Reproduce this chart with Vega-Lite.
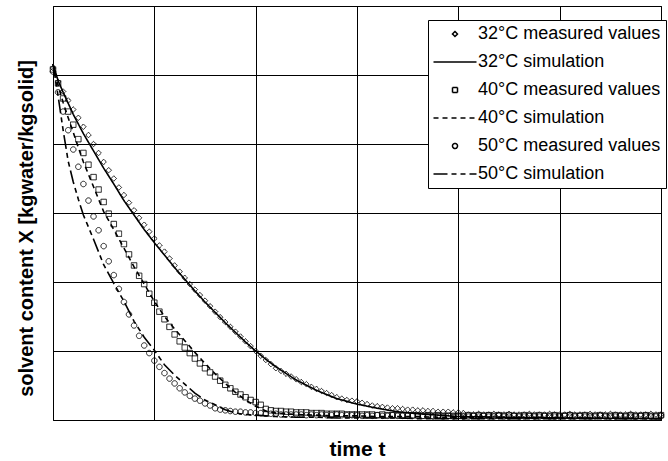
{
  "$schema": "https://vega.github.io/schema/vega-lite/v6.json",
  "width": 608,
  "height": 414,
  "autosize": {"type": "none"},
  "padding": {"left": 53, "top": 6, "right": 7, "bottom": 41},
  "background": "white",
  "config": {
    "view": {"stroke": "black", "strokeWidth": 1},
    "font": "Liberation Sans",
    "axis": {"gridColor": "black", "gridOpacity": 1, "gridWidth": 1, "labels": false, "ticks": false, "domain": false, "titleFont": "Liberation Sans", "titleFontWeight": "bold", "titleColor": "black", "titleFontSize": 21}
  },
  "datasets": {
    "meas": [
      {"t":0.00,"32°C measured values":5.10,"40°C measured values":5.08,"50°C measured values":5.05},
      {"t":0.05,"32°C measured values":4.90,"40°C measured values":4.88,"50°C measured values":4.75},
      {"t":0.10,"32°C measured values":4.76,"40°C measured values":4.66,"50°C measured values":4.47},
      {"t":0.15,"32°C measured values":4.63,"40°C measured values":4.47,"50°C measured values":4.20},
      {"t":0.20,"32°C measured values":4.50,"40°C measured values":4.28,"50°C measured values":3.92},
      {"t":0.25,"32°C measured values":4.38,"40°C measured values":4.07,"50°C measured values":3.67},
      {"t":0.30,"32°C measured values":4.25,"40°C measured values":3.87,"50°C measured values":3.42},
      {"t":0.35,"32°C measured values":4.13,"40°C measured values":3.70,"50°C measured values":3.18},
      {"t":0.40,"32°C measured values":4.00,"40°C measured values":3.52,"50°C measured values":2.95},
      {"t":0.45,"32°C measured values":3.87,"40°C measured values":3.34,"50°C measured values":2.75},
      {"t":0.50,"32°C measured values":3.74,"40°C measured values":3.16,"50°C measured values":2.52},
      {"t":0.55,"32°C measured values":3.62,"40°C measured values":2.99,"50°C measured values":2.30},
      {"t":0.60,"32°C measured values":3.50,"40°C measured values":2.84,"50°C measured values":2.10},
      {"t":0.65,"32°C measured values":3.37,"40°C measured values":2.70,"50°C measured values":1.90},
      {"t":0.70,"32°C measured values":3.26,"40°C measured values":2.55,"50°C measured values":1.71},
      {"t":0.75,"32°C measured values":3.15,"40°C measured values":2.40,"50°C measured values":1.53},
      {"t":0.80,"32°C measured values":3.04,"40°C measured values":2.24,"50°C measured values":1.37},
      {"t":0.85,"32°C measured values":2.93,"40°C measured values":2.09,"50°C measured values":1.22},
      {"t":0.90,"32°C measured values":2.83,"40°C measured values":1.97,"50°C measured values":1.08},
      {"t":0.95,"32°C measured values":2.73,"40°C measured values":1.83,"50°C measured values":0.97},
      {"t":1.00,"32°C measured values":2.63,"40°C measured values":1.70,"50°C measured values":0.86},
      {"t":1.05,"32°C measured values":2.53,"40°C measured values":1.57,"50°C measured values":0.77},
      {"t":1.10,"32°C measured values":2.44,"40°C measured values":1.46,"50°C measured values":0.68},
      {"t":1.15,"32°C measured values":2.34,"40°C measured values":1.35,"50°C measured values":0.60},
      {"t":1.20,"32°C measured values":2.24,"40°C measured values":1.24,"50°C measured values":0.53},
      {"t":1.25,"32°C measured values":2.15,"40°C measured values":1.14,"50°C measured values":0.46},
      {"t":1.30,"32°C measured values":2.06,"40°C measured values":1.05,"50°C measured values":0.40},
      {"t":1.35,"32°C measured values":1.97,"40°C measured values":0.97,"50°C measured values":0.35},
      {"t":1.40,"32°C measured values":1.89,"40°C measured values":0.89,"50°C measured values":0.31},
      {"t":1.45,"32°C measured values":1.81,"40°C measured values":0.82,"50°C measured values":0.28},
      {"t":1.50,"32°C measured values":1.73,"40°C measured values":0.75,"50°C measured values":0.24},
      {"t":1.55,"32°C measured values":1.65,"40°C measured values":0.69,"50°C measured values":0.21},
      {"t":1.60,"32°C measured values":1.57,"40°C measured values":0.63,"50°C measured values":0.17},
      {"t":1.65,"32°C measured values":1.49,"40°C measured values":0.57,"50°C measured values":0.15},
      {"t":1.70,"32°C measured values":1.42,"40°C measured values":0.51,"50°C measured values":0.14},
      {"t":1.75,"32°C measured values":1.35,"40°C measured values":0.46,"50°C measured values":0.13},
      {"t":1.80,"32°C measured values":1.28,"40°C measured values":0.41,"50°C measured values":0.12},
      {"t":1.85,"32°C measured values":1.21,"40°C measured values":0.37,"50°C measured values":0.12},
      {"t":1.90,"32°C measured values":1.14,"40°C measured values":0.33,"50°C measured values":0.11},
      {"t":1.95,"32°C measured values":1.07,"40°C measured values":0.29,"50°C measured values":0.11},
      {"t":2.00,"32°C measured values":1.00,"40°C measured values":0.26,"50°C measured values":0.10},
      {"t":2.05,"32°C measured values":0.93,"40°C measured values":0.22,"50°C measured values":0.10},
      {"t":2.10,"32°C measured values":0.87,"40°C measured values":0.16,"50°C measured values":0.09},
      {"t":2.15,"32°C measured values":0.81,"40°C measured values":0.14,"50°C measured values":0.09},
      {"t":2.20,"32°C measured values":0.75,"40°C measured values":0.13,"50°C measured values":0.09},
      {"t":2.25,"32°C measured values":0.71,"40°C measured values":0.13,"50°C measured values":0.08},
      {"t":2.30,"32°C measured values":0.67,"40°C measured values":0.12,"50°C measured values":0.08},
      {"t":2.35,"32°C measured values":0.63,"40°C measured values":0.12,"50°C measured values":0.08},
      {"t":2.40,"32°C measured values":0.59,"40°C measured values":0.11,"50°C measured values":0.08},
      {"t":2.45,"32°C measured values":0.55,"40°C measured values":0.11,"50°C measured values":0.08},
      {"t":2.50,"32°C measured values":0.52,"40°C measured values":0.11,"50°C measured values":0.07},
      {"t":2.55,"32°C measured values":0.48,"40°C measured values":0.10,"50°C measured values":0.08},
      {"t":2.60,"32°C measured values":0.45,"40°C measured values":0.10,"50°C measured values":0.07},
      {"t":2.65,"32°C measured values":0.42,"40°C measured values":0.10,"50°C measured values":0.08},
      {"t":2.70,"32°C measured values":0.39,"40°C measured values":0.09,"50°C measured values":0.07},
      {"t":2.75,"32°C measured values":0.36,"40°C measured values":0.09,"50°C measured values":0.07},
      {"t":2.80,"32°C measured values":0.33,"40°C measured values":0.09,"50°C measured values":0.08},
      {"t":2.85,"32°C measured values":0.31,"40°C measured values":0.09,"50°C measured values":0.07},
      {"t":2.90,"32°C measured values":0.29,"40°C measured values":0.08,"50°C measured values":0.07},
      {"t":2.95,"32°C measured values":0.28,"40°C measured values":0.08,"50°C measured values":0.07},
      {"t":3.00,"32°C measured values":0.27,"40°C measured values":0.08,"50°C measured values":0.07},
      {"t":3.05,"32°C measured values":0.25,"40°C measured values":0.08,"50°C measured values":0.06},
      {"t":3.10,"32°C measured values":0.23,"40°C measured values":0.08,"50°C measured values":0.07},
      {"t":3.15,"32°C measured values":0.21,"40°C measured values":0.08,"50°C measured values":0.06},
      {"t":3.20,"32°C measured values":0.20,"40°C measured values":0.07,"50°C measured values":0.07},
      {"t":3.25,"32°C measured values":0.19,"40°C measured values":0.08,"50°C measured values":0.06},
      {"t":3.30,"32°C measured values":0.18,"40°C measured values":0.07,"50°C measured values":0.06},
      {"t":3.35,"32°C measured values":0.17,"40°C measured values":0.07,"50°C measured values":0.07},
      {"t":3.40,"32°C measured values":0.17,"40°C measured values":0.07,"50°C measured values":0.06},
      {"t":3.45,"32°C measured values":0.16,"40°C measured values":0.07,"50°C measured values":0.06},
      {"t":3.50,"32°C measured values":0.15,"40°C measured values":0.07,"50°C measured values":0.06},
      {"t":3.55,"32°C measured values":0.15,"40°C measured values":0.07,"50°C measured values":0.06},
      {"t":3.60,"32°C measured values":0.14,"40°C measured values":0.07,"50°C measured values":0.06},
      {"t":3.65,"32°C measured values":0.14,"40°C measured values":0.06,"50°C measured values":0.06},
      {"t":3.70,"32°C measured values":0.13,"40°C measured values":0.07,"50°C measured values":0.06},
      {"t":3.75,"32°C measured values":0.13,"40°C measured values":0.06,"50°C measured values":0.05},
      {"t":3.80,"32°C measured values":0.12,"40°C measured values":0.07,"50°C measured values":0.06},
      {"t":3.85,"32°C measured values":0.12,"40°C measured values":0.06,"50°C measured values":0.05},
      {"t":3.90,"32°C measured values":0.12,"40°C measured values":0.06,"50°C measured values":0.06},
      {"t":3.95,"32°C measured values":0.11,"40°C measured values":0.06,"50°C measured values":0.05},
      {"t":4.00,"32°C measured values":0.11,"40°C measured values":0.06,"50°C measured values":0.06},
      {"t":4.05,"32°C measured values":0.10,"40°C measured values":0.06,"50°C measured values":0.05},
      {"t":4.10,"32°C measured values":0.08,"40°C measured values":0.07,"50°C measured values":0.05},
      {"t":4.15,"32°C measured values":0.08,"40°C measured values":0.06,"50°C measured values":0.06},
      {"t":4.20,"32°C measured values":0.09,"40°C measured values":0.07,"50°C measured values":0.05},
      {"t":4.25,"32°C measured values":0.08,"40°C measured values":0.06,"50°C measured values":0.06},
      {"t":4.30,"32°C measured values":0.08,"40°C measured values":0.07,"50°C measured values":0.05},
      {"t":4.35,"32°C measured values":0.09,"40°C measured values":0.06,"50°C measured values":0.05},
      {"t":4.40,"32°C measured values":0.08,"40°C measured values":0.07,"50°C measured values":0.06},
      {"t":4.45,"32°C measured values":0.08,"40°C measured values":0.06,"50°C measured values":0.05},
      {"t":4.50,"32°C measured values":0.09,"40°C measured values":0.07,"50°C measured values":0.05},
      {"t":4.55,"32°C measured values":0.08,"40°C measured values":0.06,"50°C measured values":0.06},
      {"t":4.60,"32°C measured values":0.08,"40°C measured values":0.06,"50°C measured values":0.05},
      {"t":4.65,"32°C measured values":0.08,"40°C measured values":0.07,"50°C measured values":0.05},
      {"t":4.70,"32°C measured values":0.09,"40°C measured values":0.06,"50°C measured values":0.06},
      {"t":4.75,"32°C measured values":0.08,"40°C measured values":0.06,"50°C measured values":0.05},
      {"t":4.80,"32°C measured values":0.08,"40°C measured values":0.07,"50°C measured values":0.05},
      {"t":4.85,"32°C measured values":0.08,"40°C measured values":0.06,"50°C measured values":0.06},
      {"t":4.90,"32°C measured values":0.09,"40°C measured values":0.06,"50°C measured values":0.05},
      {"t":4.95,"32°C measured values":0.08,"40°C measured values":0.07,"50°C measured values":0.05},
      {"t":5.00,"32°C measured values":0.08,"40°C measured values":0.06,"50°C measured values":0.05},
      {"t":5.05,"32°C measured values":0.08,"40°C measured values":0.06,"50°C measured values":0.06},
      {"t":5.10,"32°C measured values":0.09,"40°C measured values":0.07,"50°C measured values":0.05},
      {"t":5.15,"32°C measured values":0.08,"40°C measured values":0.06,"50°C measured values":0.05},
      {"t":5.20,"32°C measured values":0.08,"40°C measured values":0.06,"50°C measured values":0.06},
      {"t":5.25,"32°C measured values":0.08,"40°C measured values":0.07,"50°C measured values":0.05},
      {"t":5.30,"32°C measured values":0.09,"40°C measured values":0.06,"50°C measured values":0.05},
      {"t":5.35,"32°C measured values":0.08,"40°C measured values":0.06,"50°C measured values":0.05},
      {"t":5.40,"32°C measured values":0.08,"40°C measured values":0.07,"50°C measured values":0.06},
      {"t":5.45,"32°C measured values":0.08,"40°C measured values":0.06,"50°C measured values":0.05},
      {"t":5.50,"32°C measured values":0.09,"40°C measured values":0.06,"50°C measured values":0.05},
      {"t":5.55,"32°C measured values":0.08,"40°C measured values":0.07,"50°C measured values":0.05},
      {"t":5.60,"32°C measured values":0.08,"40°C measured values":0.06,"50°C measured values":0.06},
      {"t":5.65,"32°C measured values":0.08,"40°C measured values":0.06,"50°C measured values":0.05},
      {"t":5.70,"32°C measured values":0.09,"40°C measured values":0.07,"50°C measured values":0.05},
      {"t":5.75,"32°C measured values":0.08,"40°C measured values":0.06,"50°C measured values":0.05},
      {"t":5.80,"32°C measured values":0.08,"40°C measured values":0.06,"50°C measured values":0.06},
      {"t":5.85,"32°C measured values":0.08,"40°C measured values":0.07,"50°C measured values":0.05},
      {"t":5.90,"32°C measured values":0.09,"40°C measured values":0.06,"50°C measured values":0.05},
      {"t":5.95,"32°C measured values":0.08,"40°C measured values":0.06,"50°C measured values":0.05},
      {"t":6.00,"32°C measured values":0.08,"40°C measured values":0.07,"50°C measured values":0.06}
    ],
    "sim": [
      {"t":0.00,"32°C simulation":5.16,"40°C simulation":5.16,"50°C simulation":5.16},
      {"t":0.05,"32°C simulation":4.92,"40°C simulation":4.85,"50°C simulation":4.70},
      {"t":0.10,"32°C simulation":4.75,"40°C simulation":4.60,"50°C simulation":4.20},
      {"t":0.15,"32°C simulation":4.59,"40°C simulation":4.38,"50°C simulation":3.75},
      {"t":0.20,"32°C simulation":4.43,"40°C simulation":4.17,"50°C simulation":3.45},
      {"t":0.25,"32°C simulation":4.29,"40°C simulation":3.95,"50°C simulation":3.20},
      {"t":0.30,"32°C simulation":4.15,"40°C simulation":3.74,"50°C simulation":2.97},
      {"t":0.40,"32°C simulation":3.90,"40°C simulation":3.38,"50°C simulation":2.62},
      {"t":0.50,"32°C simulation":3.65,"40°C simulation":3.02,"50°C simulation":2.25},
      {"t":0.60,"32°C simulation":3.42,"40°C simulation":2.76,"50°C simulation":1.98},
      {"t":0.70,"32°C simulation":3.18,"40°C simulation":2.49,"50°C simulation":1.72},
      {"t":0.80,"32°C simulation":2.97,"40°C simulation":2.22,"50°C simulation":1.43},
      {"t":0.90,"32°C simulation":2.76,"40°C simulation":1.97,"50°C simulation":1.20},
      {"t":1.00,"32°C simulation":2.57,"40°C simulation":1.72,"50°C simulation":1.01},
      {"t":1.10,"32°C simulation":2.39,"40°C simulation":1.50,"50°C simulation":0.80},
      {"t":1.20,"32°C simulation":2.21,"40°C simulation":1.32,"50°C simulation":0.65},
      {"t":1.30,"32°C simulation":2.04,"40°C simulation":1.15,"50°C simulation":0.52},
      {"t":1.40,"32°C simulation":1.87,"40°C simulation":0.98,"50°C simulation":0.39},
      {"t":1.50,"32°C simulation":1.71,"40°C simulation":0.82,"50°C simulation":0.29},
      {"t":1.60,"32°C simulation":1.56,"40°C simulation":0.67,"50°C simulation":0.22},
      {"t":1.70,"32°C simulation":1.41,"40°C simulation":0.53,"50°C simulation":0.15},
      {"t":1.80,"32°C simulation":1.27,"40°C simulation":0.40,"50°C simulation":0.10},
      {"t":1.90,"32°C simulation":1.13,"40°C simulation":0.29,"50°C simulation":0.08},
      {"t":2.00,"32°C simulation":1.00,"40°C simulation":0.20,"50°C simulation":0.07},
      {"t":2.10,"32°C simulation":0.88,"40°C simulation":0.13,"50°C simulation":0.06},
      {"t":2.20,"32°C simulation":0.77,"40°C simulation":0.10,"50°C simulation":0.05},
      {"t":2.40,"32°C simulation":0.58,"40°C simulation":0.08,"50°C simulation":0.04},
      {"t":2.60,"32°C simulation":0.43,"40°C simulation":0.07,"50°C simulation":0.04},
      {"t":2.80,"32°C simulation":0.31,"40°C simulation":0.06,"50°C simulation":0.03},
      {"t":3.00,"32°C simulation":0.23,"40°C simulation":0.06,"50°C simulation":0.03},
      {"t":3.20,"32°C simulation":0.17,"40°C simulation":0.05,"50°C simulation":0.03},
      {"t":3.40,"32°C simulation":0.12,"40°C simulation":0.05,"50°C simulation":0.03},
      {"t":3.60,"32°C simulation":0.09,"40°C simulation":0.05,"50°C simulation":0.02},
      {"t":3.80,"32°C simulation":0.07,"40°C simulation":0.04,"50°C simulation":0.02},
      {"t":4.00,"32°C simulation":0.05,"40°C simulation":0.04,"50°C simulation":0.02},
      {"t":4.50,"32°C simulation":0.04,"40°C simulation":0.03,"50°C simulation":0.02},
      {"t":5.00,"32°C simulation":0.03,"40°C simulation":0.03,"50°C simulation":0.02},
      {"t":6.00,"32°C simulation":0.02,"40°C simulation":0.02,"50°C simulation":0.02}
    ]
  },
  "encoding": {
    "x": {"field": "t", "type": "quantitative", "scale": {"domain": [0, 6], "nice": false, "zero": false},
          "axis": {"title": "time t", "values": [0, 1, 2, 3, 4, 5, 6], "grid": true, "titlePadding": 18}},
    "y": {"field": "X", "type": "quantitative", "scale": {"domain": [0, 6], "nice": false},
          "axis": {"title": "solvent content X [kgwater/kgsolid]", "values": [0, 1, 2, 3, 4, 5, 6], "grid": true, "titlePadding": 17, "titleY": 222, "titleFontSize": 20}}
  },
  "layer": [
    {
      "data": {"name": "meas"},
      "transform": [{"fold": ["32°C measured values", "40°C measured values", "50°C measured values"], "as": ["series", "X"]}],
      "mark": {"type": "point", "filled": false, "color": "black", "size": 30, "strokeWidth": 0.9, "opacity": 1},
      "encoding": {
        "shape": {
          "field": "series", "type": "nominal",
          "scale": {
            "domain": ["32°C measured values", "32°C simulation", "40°C measured values", "40°C simulation", "50°C measured values", "50°C simulation"],
            "range": ["diamond", "M-8.6,0H8.6", "square", "M-8.6,0H8.6", "circle", "M-8.6,0H8.6"]
          },
          "legend": {
            "title": null,
            "orient": "none",
            "legendX": 375,
            "legendY": 14,
            "direction": "vertical",
            "fillColor": "white",
            "strokeColor": "black",
            "padding": 5,
            "labelFont": "Liberation Sans",
            "labelFontSize": 18,
            "labelColor": "black",
            "labelLimit": 400,
            "labelOffset": 14,
            "symbolOffset": 13,
            "symbolSize": 25,
            "symbolStrokeColor": "black",
            "symbolFillColor": "transparent",
            "rowPadding": 10,
            "encode": {
              "symbols": {
                "update": {
                  "strokeWidth": {"signal": "indexof(datum.value, 'simulation') >= 0 ? 1.6 : 0.8"},
                  "size": {"value": 25}
                }
              }
            }
          }
        },
        "strokeDash": {
          "field": "series", "type": "nominal",
          "scale": {
            "domain": ["32°C measured values", "32°C simulation", "40°C measured values", "40°C simulation", "50°C measured values", "50°C simulation"],
            "range": [[1, 0], [1, 0], [1, 0], [5, 4], [1, 0], [14, 4, 5, 4, 5, 4]]
          }
        }
      }
    },
    {
      "data": {"name": "sim"},
      "transform": [{"fold": ["32°C simulation", "40°C simulation", "50°C simulation"], "as": ["series", "X"]}],
      "mark": {"type": "line", "color": "black", "strokeWidth": 1.6},
      "encoding": {
        "detail": {"field": "series", "type": "nominal"},
        "strokeDash": {
          "field": "series", "type": "nominal",
          "scale": {
            "domain": ["32°C measured values", "32°C simulation", "40°C measured values", "40°C simulation", "50°C measured values", "50°C simulation"],
            "range": [[1, 0], [1, 0], [1, 0], [5, 4], [1, 0], [14, 4, 5, 4, 5, 4]]
          }
        }
      }
    }
  ]
}
